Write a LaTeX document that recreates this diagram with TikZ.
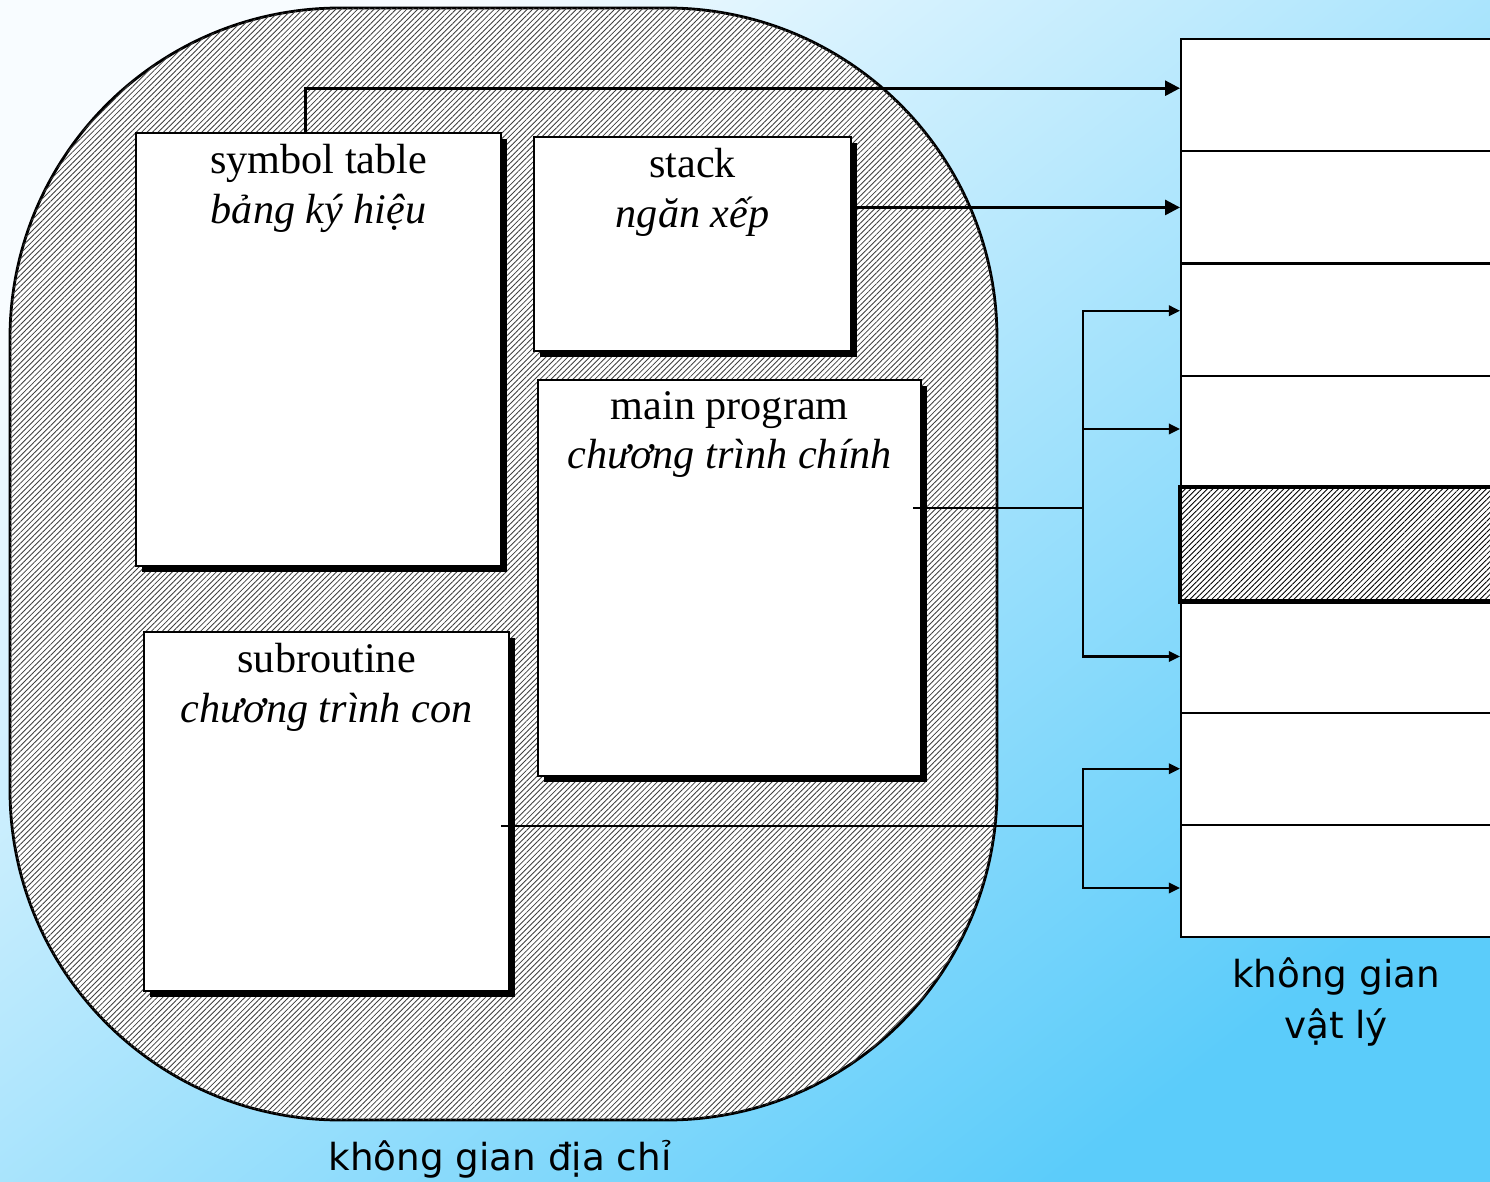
\documentclass[tikz,border=0pt]{standalone}
\usepackage{fontspec}
\setmainfont{Liberation Serif}
\newfontfamily\labelfont{DejaVu Sans}
\usetikzlibrary{arrows.meta,calc,positioning,shadows,patterns.meta}
\definecolor{bgA}{HTML}{F8FCFF}
\definecolor{bgB}{HTML}{C2E8FC}
\definecolor{bgC}{HTML}{5BCCFA}

\begin{document}
\begin{tikzpicture}[x=0.01cm,y=-0.01cm,font=\fontsize{12}{14}\selectfont,
  box/.style={draw,fill=white,line width=0.6pt,anchor=north west,inner sep=0pt,
    drop shadow={shadow xshift=0.6mm,shadow yshift=-0.6mm,fill=black,opacity=1}},
  boxtext/.style={anchor=north,align=center,inner sep=0pt,yshift=-1.2mm},
  cell/.style={draw,fill=white,line width=0.6pt,anchor=north west,inner sep=0pt,
    minimum width=4cm,minimum height=1.1225cm},
  link/.style={line width=0.6pt},
  arr/.style={link,-{Triangle[length=3.2pt,width=3pt]}},
  bigarr/.style={line width=0.8pt,-{Triangle[length=4.2pt,width=4.2pt]}},
  caption/.style={font=\labelfont\fontsize{10.6}{14.5}\selectfont,align=center,inner sep=0pt}]
  \useasboundingbox (0,0) rectangle (1490,1182);
  \shade[top color=bgA,middle color=bgB,bottom color=bgC,shading angle=38] (0,0) rectangle (1490,1182);

  % address space
  \draw[line width=0.8pt,fill=white,rounded corners=3.3cm,
    postaction={pattern={Lines[angle=45,distance=1.1pt,line width=0.24pt]},pattern color=black!75}]
    (10,8) rectangle (997,1120);
  \node[box,minimum width=3.65cm,minimum height=4.33cm] (symtab) at (135,132) {};
  \node[box,minimum width=3.17cm,minimum height=2.14cm] (stack) at (533,136) {};
  \node[box,minimum width=3.83cm,minimum height=3.96cm] (mainprog) at (537,379) {};
  \node[box,minimum width=3.65cm,minimum height=3.59cm] (subr) at (143,631) {};
  \node[boxtext] at (symtab.north) {symbol table\\\textit{bảng ký hiệu}};
  \node[boxtext] at (stack.north) {stack\\\textit{ngăn xếp}};
  \node[boxtext] at (mainprog.north) {main program\\\textit{chương trình chính}};
  \node[boxtext] at (subr.north) {subroutine\\\textit{chương trình con}};

  % physical space
  \foreach \i in {1,...,8}
    \node[cell] (m\i) at (1180,{38+112.25*(\i-1)}) {};
  \draw[line width=1.3pt,fill=white,
    postaction={pattern={Lines[angle=45,distance=1.1pt,line width=0.24pt]},pattern color=black}]
    (m5.north west) rectangle (m5.south east);

  \coordinate (symtop) at ([xshift=1.7cm]symtab.north west);
  \draw[bigarr] (symtop) |- ([yshift=0.7mm]m1.west);
  \draw[bigarr] (stack.east |- m2.west) -- (m2.west);

  \coordinate (fork1) at (1083,508);
  \draw[link] ([xshift=-0.9mm]mainprog.east |- fork1) -- (fork1);
  \draw[arr] (fork1) |- ([yshift=0.9mm]m3.west);
  \draw[arr] (fork1) |- ([yshift=0.3mm]m4.west);
  \draw[arr] (fork1) |- (m6.west);

  \coordinate (fork2) at (1083,826);
  \draw[link] ([xshift=-0.9mm]subr.east |- fork2) -- (fork2);
  \draw[arr] (fork2) |- (m7.west);
  \draw[arr] (fork2) |- ([yshift=-0.7mm]m8.west);

  \node[caption,anchor=base] (addrlabel) at (500,1170) {không gian địa chỉ};
  \node[caption,anchor=base] (physlabel) at (1336,1038) {không gian\\vật lý};
\end{tikzpicture}
\end{document}
